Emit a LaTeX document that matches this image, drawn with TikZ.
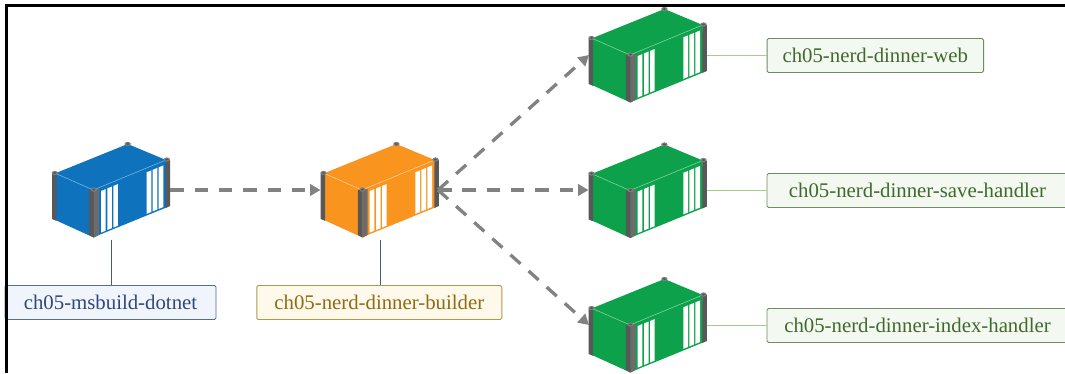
\documentclass[tikz,border=0pt]{standalone}
\usepackage{fontspec}
\setmainfont{Liberation Serif}
\usetikzlibrary{arrows.meta}
\definecolor{postdark}{HTML}{585858}
\definecolor{postmid}{HTML}{6C6C6C}
\definecolor{capgrey}{HTML}{808080}
\definecolor{bluebody}{HTML}{0E72BD}
\definecolor{blueline}{HTML}{6FB0E0}
\definecolor{orangebody}{HTML}{F9951F}
\definecolor{orangeline}{HTML}{FCC88A}
\definecolor{greenbody}{HTML}{0CA14A}
\definecolor{greenline}{HTML}{78D09A}
\definecolor{arrowgrey}{HTML}{828282}
\definecolor{bborder}{HTML}{5A6B92}
\definecolor{bfill}{HTML}{F0F4FB}
\definecolor{btext}{HTML}{33467C}
\definecolor{oborder}{HTML}{AD9A4E}
\definecolor{ofill}{HTML}{FFF9EB}
\definecolor{otext}{HTML}{8F6C12}
\definecolor{gborder}{HTML}{6F8C63}
\definecolor{gfill}{HTML}{F3F8F1}
\definecolor{gtext}{HTML}{3F6A2C}
\definecolor{darkleader}{HTML}{4A5A7E}
\definecolor{greenleader}{HTML}{A3CF8B}
\tikzset{
  x=1pt,y=-1pt,
  pics/container/.style 2 args={code={
    % top, left and right faces
    \fill[#1] (-38,-16.7) -- (34.4,-46) -- (72.7,-30) -- (0,0) -- cycle;
    \fill[#1] (-38,-16.7) -- (0,0) -- (0,47.3) -- (-38,30) -- cycle;
    \fill[#1] (0,0) -- (72.7,-30) -- (73,17.5) -- (0,47.3) -- cycle;
    % lighter edges
    \draw[#2,line width=0.6] (-38,-16.7) -- (0,0) -- (72.7,-30);
    % door stripes
    \foreach \sx in {7.7,14,20,53.4,59.4,65.4}{
      \fill[white] (\sx,{1-0.41*(\sx-7.7)}) -- ({\sx+4.6},{1-0.41*(\sx+4.6-7.7)})
        -- ({\sx+4.6},{42.6-0.41*(\sx+4.6-7.7)}) -- (\sx,{42.6-0.41*(\sx-7.7)}) -- cycle;
    }
    % corner posts
    \fill[postdark] (-41.3,-16.5) -- (-37,-16.5) -- (-37,30.8) -- (-41.3,29) -- cycle;
    \fill[postdark] (72.4,-30) -- (76.8,-30) -- (76.8,16) -- (72.4,18) -- cycle;
    \fill[postdark] (-4.2,0) -- (0.6,0) -- (0.6,47.6) -- (-4.2,45) -- cycle;
    \fill[postmid] (0.6,0) -- (5.6,-1) -- (5.6,45) -- (0.6,47.6) -- cycle;
    % caps
    \foreach \cx/\cy in {-38.5/-17,34.4/-46,73.5/-30.5,0.5/-0.5}{
      \fill[capgrey] (\cx,\cy) ellipse [x radius=3.2,y radius=2.1];
      \fill[postdark] (\cx,\cy) ellipse [x radius=1.8,y radius=1.1];
    }
    \coordinate (-left) at (-41.5,0);
    \coordinate (-right) at (77,0);
    \coordinate (-bottom) at (18,49.5);
  }},
  boxlabel/.style n args={3}{draw=#1,fill=#2,text=#3,line width=0.9,rounded corners=1.5,
    minimum height=34,inner sep=0,font=\fontsize{20.8}{24}\selectfont},
  flow/.style={draw=arrowgrey,line width=3.3,dash pattern=on 13.5 off 10.8,
    -{Triangle[length=10.5,width=11.5]}},
  leader/.style={line width=0.9},
}
\begin{document}
\begin{tikzpicture}
\useasboundingbox (0,0) rectangle (1065,373);
\clip (0,0) rectangle (1065,373);
\fill[white] (0,0) rectangle (1065,373);

\pic (blue) at (93.3,190) {container={bluebody}{blueline}};
\pic (orange) at (362,190) {container={orangebody}{orangeline}};
\pic (web) at (630,55) {container={greenbody}{greenline}};
\pic (save) at (630,190.5) {container={greenbody}{greenline}};
\pic (index) at (630,325) {container={greenbody}{greenline}};

\node[boxlabel={bborder}{bfill}{btext},minimum width=211] (lblue) at (110.5,302.5) {ch05-msbuild-dotnet};
\node[boxlabel={oborder}{ofill}{otext},minimum width=245] (lorange) at (379.3,302.5) {ch05-nerd-dinner-builder};
\node[boxlabel={gborder}{gfill}{gtext},minimum width=216.5] (lweb) at (875.3,55.5) {ch05-nerd-dinner-web};
\node[boxlabel={gborder}{gfill}{gtext},minimum width=301] (lsave) at (917.5,190.5) {ch05-nerd-dinner-save-handler};
\node[boxlabel={gborder}{gfill}{gtext},minimum width=301] (lindex) at (917.5,325.5) {ch05-nerd-dinner-index-handler};

\draw[leader,draw=darkleader] (blue-bottom) -- (blue-bottom |- lblue.north);
\draw[leader,draw=darkleader] (orange-bottom) -- (orange-bottom |- lorange.north);
\draw[leader,draw=greenleader] (web-right |- lweb.west) -- (lweb.west);
\draw[leader,draw=greenleader] (save-right |- lsave.west) -- (lsave.west);
\draw[leader,draw=greenleader] (index-right |- lindex.west) -- (lindex.west);

\draw[flow] (blue-right) -- (orange-left);
\coordinate (hub) at (438,190);
\coordinate (webin) at (589,55);
\coordinate (indexin) at (589,325);
\draw[flow] (hub) -- (webin);
\draw[flow] (hub) -- (save-left |- hub);
\draw[flow] (hub) -- (indexin);

% frame
\draw[black,line width=2.6] (6.2,373) -- (6.2,5.5) -- (1065,5.5);
\end{tikzpicture}
\end{document}
